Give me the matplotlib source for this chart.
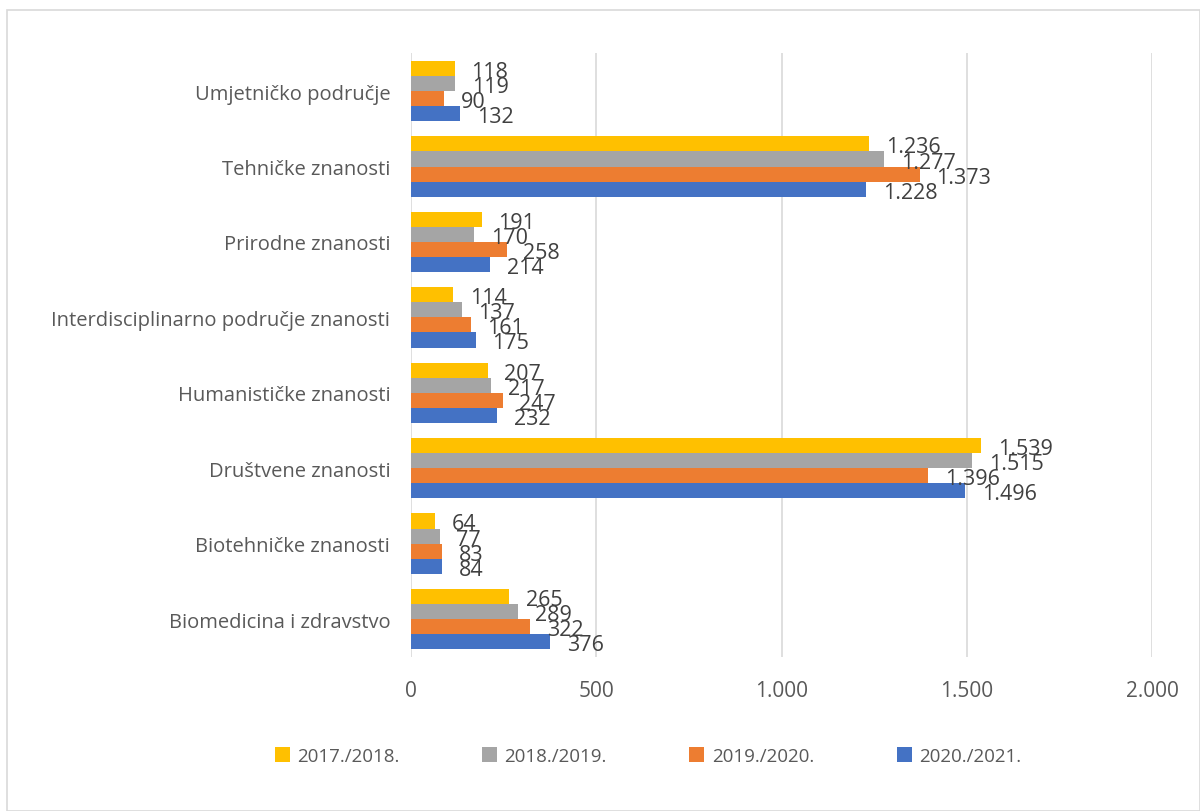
import numpy as np
import matplotlib
matplotlib.use("Agg")
import matplotlib.pyplot as plt
import matplotlib.ticker as ticker
from matplotlib.patches import Rectangle

plt.rcParams['font.family'] = ['Open Sans', 'DejaVu Sans']

categories = ["Biomedicina i zdravstvo", "Biotehničke znanosti", "Društvene znanosti",
              "Humanističke znanosti", "Interdisciplinarno područje znanosti",
              "Prirodne znanosti", "Tehničke znanosti", "Umjetničko područje"]
years = ["2017./2018.", "2018./2019.", "2019./2020.", "2020./2021."]
v1718 = [265, 64, 1539, 207, 114, 191, 1236, 118]
v1819 = [289, 77, 1515, 217, 137, 170, 1277, 119]
v1920 = [322, 83, 1396, 247, 161, 258, 1373, 90]
v2021 = [376, 84, 1496, 232, 175, 214, 1228, 132]
series = [v1718, v1819, v1920, v2021]
colors = ["#FFC000", "#A5A5A5", "#ED7D31", "#4472C4"]

def fmt(v, pos=None):
    return "{:,}".format(int(v)).replace(",", ".")

fig = plt.figure(figsize=(12, 8.12), dpi=100)
ax = fig.add_axes([0.3425, 0.19, 0.6175, 0.743])
fig.patches.append(Rectangle((7/1200, 0), 1 - 7/1200, 1 - 11/812, transform=fig.transFigure,
                             fill=False, edgecolor="#D9D9D9", linewidth=1.2))

y = np.arange(len(categories))
h = 0.2
offsets = [0.3, 0.1, -0.1, -0.3]
for vals, col, off, name in zip(series, colors, offsets, years):
    bars = ax.barh(y + off, vals, height=h, color=col, label=name, zorder=3)
    for b, v in zip(bars, vals):
        ax.text(b.get_width() + 45, b.get_y() + h / 2 - 0.04, fmt(v), va="center", ha="left",
                fontsize=15.5, color="#404040", zorder=4)

ax.set_xlim(0, 2000)
ax.set_ylim(-0.5, len(categories) - 0.5)
ax.xaxis.set_major_locator(ticker.MultipleLocator(500))
ax.xaxis.set_major_formatter(ticker.FuncFormatter(fmt))
ax.set_yticks(y)
ax.set_yticklabels(categories)
ax.grid(axis="x", color="#D9D9D9", linewidth=1.2, zorder=0)
for s in ax.spines.values():
    s.set_visible(False)
ax.tick_params(axis="both", length=0, labelcolor="#595959")
ax.tick_params(axis="x", pad=17, labelsize=15)
ax.tick_params(axis="y", pad=15, labelsize=14.5)

handles, labels = ax.get_legend_handles_labels()
fig.legend(handles, labels, loc="center", bbox_to_anchor=(0.54, 1 - 757/812), ncol=4,
           frameon=False, fontsize=13.5, labelcolor="#595959", handlelength=0.8, handleheight=0.8,
           columnspacing=4.4, handletextpad=0.4)

fig.savefig("out.png", dpi=100, facecolor="white")
